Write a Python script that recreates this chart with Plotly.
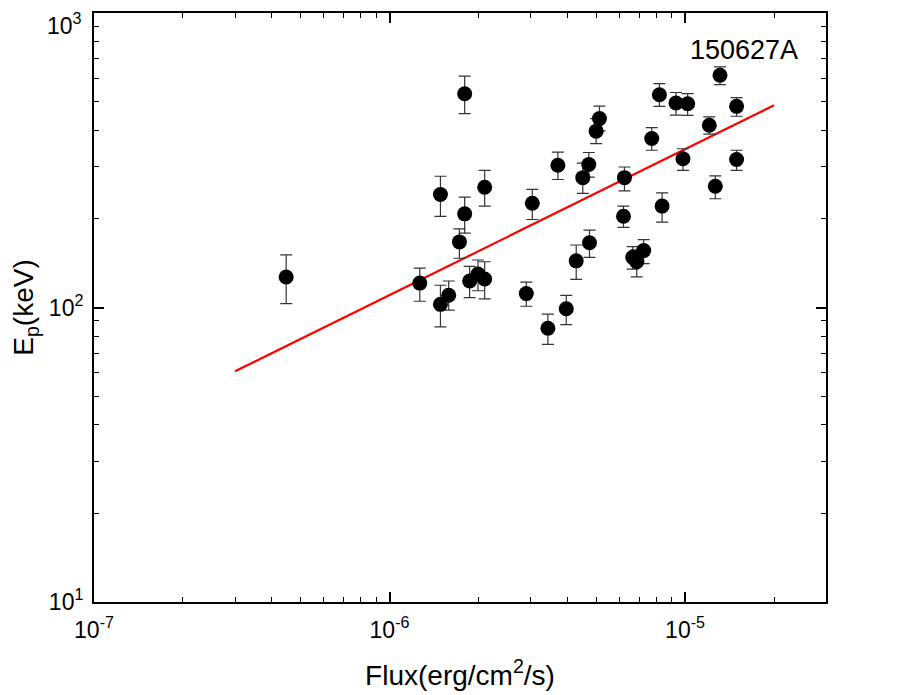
import plotly.graph_objects as go

# Data (GRB 150627A)
flux = [4.47e-7, 1.266e-6, 1.487e-6, 1.796e-6, 1.796e-6, 2.099e-6, 1.724e-6, 1.867e-6,
        1.992e-6, 2.099e-6, 1.487e-6, 1.586e-6, 2.903e-6, 3.042e-6, 3.435e-6, 3.963e-6,
        3.713e-6, 4.283e-6, 4.508e-6, 4.724e-6, 4.750e-6, 5.003e-6, 5.134e-6, 6.19e-6,
        6.237e-6, 6.653e-6, 6.863e-6, 7.245e-6, 7.715e-6, 8.363e-6, 8.19e-6, 9.32e-6,
        1.0205e-5, 9.84e-6, 1.208e-5, 1.266e-5, 1.313e-5, 1.494e-5, 1.494e-5]
ep = [127, 121, 242, 532, 208, 256, 167, 123,
      130, 125, 102.5, 110, 111.5, 226, 85, 99,
      304, 144, 276, 306, 166, 397, 438, 204,
      276, 148, 143, 156, 375, 221, 528, 495,
      492, 320, 416, 258, 615, 482, 318]
ep_err_plus = [24, 15, 37, 78, 29, 36, 18, 15,
               15, 18, 16.5, 13, 10.5, 26, 10, 11,
               33, 19, 33, 30, 17, 41, 45, 17,
               24, 13, 14, 14, 33, 24, 48, 42,
               40, 26, 28, 22, 41, 34, 24]
ep_err_minus = [24, 16, 38, 77, 29, 35, 20, 15,
                16, 18, 16.6, 12, 10.5, 27, 10, 11.5,
                32, 19.5, 32, 29, 18, 37, 40, 17,
                27, 13, 16, 15, 33, 26, 46, 45,
                43, 28, 28, 24, 44, 36, 26]

fit_flux = [3e-7, 2e-5]
fit_ep = [60.7, 486]

x_tickvals = [1e-7, 1e-6, 1e-5]
x_ticktext = ["10<sup>-7</sup>", "10<sup>-6</sup>", "10<sup>-5</sup>"]
y_tickvals = [10, 100]
y_ticktext = ["10<sup>1</sup>", "10<sup>2</sup>"]
y_top_label = "10<sup>3</sup>"   # top decade label, drawn so it stays inside the page

FONT = "Liberation Sans, Arial, sans-serif"

fig = go.Figure()
fig.add_trace(go.Scatter(
    x=fit_flux, y=fit_ep, mode="lines",
    line=dict(color="#ff0000", width=2.2), showlegend=False))
fig.add_trace(go.Scatter(
    x=flux, y=ep, mode="markers",
    marker=dict(color="black", size=15, line=dict(width=0)),
    error_y=dict(type="data", symmetric=False, array=ep_err_plus,
                 arrayminus=ep_err_minus, color="#333333", thickness=1.2, width=6),
    showlegend=False))

fig.add_annotation(x=0.965, y=0.937, xref="paper", yref="paper", text="150627A",
                   showarrow=False, xanchor="right", yanchor="middle",
                   font=dict(family=FONT, size=27, color="black"))
fig.add_annotation(x=0, y=1, xref="paper", yref="paper", text=y_top_label,
                   showarrow=False, xanchor="right", yanchor="top",
                   xshift=-11, yshift=5, borderpad=0,
                   font=dict(family=FONT, size=23, color="black"))

axis_common = dict(
    type="log", showgrid=False, zeroline=False, automargin=False,
    showline=True, linecolor="black", linewidth=2, mirror="ticks",
    ticks="inside", ticklen=10, tickwidth=1.5, tickcolor="black",
    ticklabeloverflow="allow",
    tickfont=dict(family=FONT, size=23, color="black"),
    minor=dict(ticks="inside", ticklen=5, tickwidth=1.2, tickcolor="black", dtick="D1", showgrid=False),
)

fig.update_layout(
    width=917, height=695,
    margin=dict(l=86, r=99, t=5, b=101),
    paper_bgcolor="white", plot_bgcolor="white",
    font=dict(family=FONT, color="black"),
    xaxis=dict(axis_common, range=[-7, -4.523], tickvals=x_tickvals, ticktext=x_ticktext,
               ticklabelstandoff=6,
               title=dict(text="Flux(erg/cm<sup>2</sup>/s)", font=dict(size=28), standoff=24)),
    yaxis=dict(axis_common, range=[1, 3], tickvals=y_tickvals, ticktext=y_ticktext,
               ticklabelstandoff=4,
               title=dict(text="E<sub>p</sub>(keV)", font=dict(size=28), standoff=11)),
)

fig.write_html("out.html")
